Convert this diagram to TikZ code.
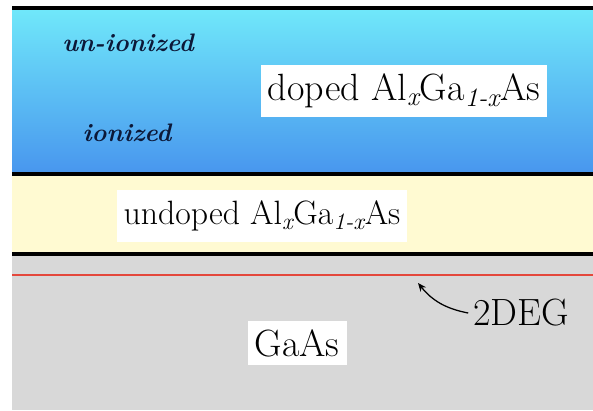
\documentclass[tikz,border=0pt]{standalone}
\usepackage{tikz}
\usetikzlibrary{arrows.meta}

\definecolor{dopedtop}{RGB}{112,232,250}
\definecolor{dopedbot}{RGB}{72,150,238}
\definecolor{spacer}{RGB}{255,250,210}
\definecolor{substrate}{RGB}{216,216,216}
\definecolor{ionink}{RGB}{12,24,56}
\definecolor{gasred}{RGB}{228,72,60}

\begin{document}
\begin{tikzpicture}[x=0.025cm,y=-0.025cm,
    interface/.style={line width=2.2pt},
    layerlabel/.style={fill=white,inner xsep=5pt,inner ysep=6pt,font=\fontsize{27}{30}\selectfont},
    ionlabel/.style={text=ionink,font=\fontsize{18}{21}\selectfont\bfseries\itshape}]
    \useasboundingbox (0,0) rectangle (593,410);

    \shade[top color=dopedtop,bottom color=dopedbot] (12,8) rectangle (593,174);
    \fill[spacer] (12,174) rectangle (593,254);
    \fill[substrate] (12,254) rectangle (593,410);

    \draw[interface] (12,8) -- (593,8);
    \draw[interface] (12,174) -- (593,174);
    \draw[interface] (12,254) -- (593,254);
    \draw[gasred,line width=1.6pt] (12,275) -- (593,275);

    \node[ionlabel] (union) at (128,43) {un-ionized};
    \node[ionlabel] (ion) at (127,133) {ionized};

    \node[layerlabel] (doped) at (404,91) {doped Al\textsubscript{\itshape x}Ga\textsubscript{\itshape 1-x}As};
    \node[layerlabel,inner ysep=8pt,font=\fontsize{24}{28}\selectfont] (undoped) at (262,216) {undoped Al\textsubscript{\itshape x}Ga\textsubscript{\itshape 1-x}As};
    \node[layerlabel] (gaas) at (297,343) {GaAs};

    \node[font=\fontsize{27}{30}\selectfont] (deg) at (521,313) {2DEG};
    \coordinate (degtip) at (418,283);
    \draw[-{Stealth[length=6pt,width=5pt]},line width=0.9pt] (deg.west) to[bend left=20] (degtip);
\end{tikzpicture}
\end{document}
